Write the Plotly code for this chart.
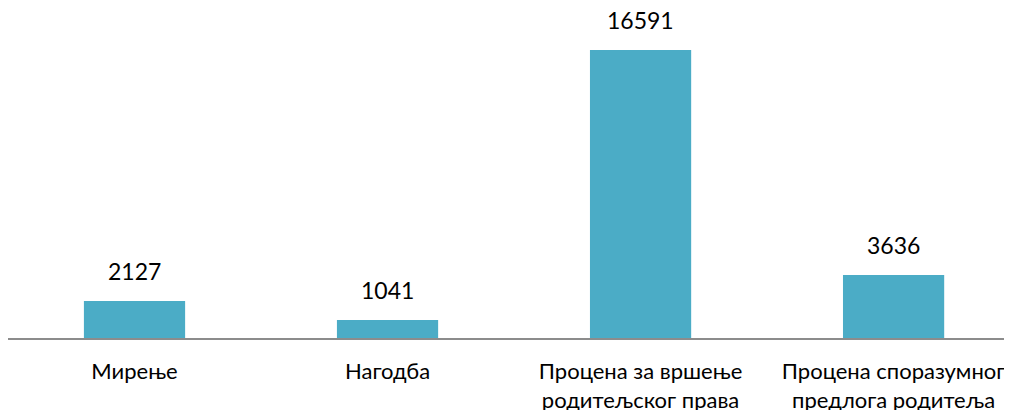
import plotly.graph_objects as go

categories = ["Мирење", "Нагодба", "Процена за вршење<br>родитељског права", "Процена споразумног<br>предлога родитеља"]
values = [2127, 1041, 16591, 3636]

fig = go.Figure(go.Bar(
    x=list(range(len(categories))),
    y=values,
    width=0.4,
    marker=dict(color="#4BACC6", line=dict(width=0)),
    hoverinfo="x+y",
))

for i, v in enumerate(values):
    fig.add_annotation(
        x=i, y=v, text=str(v), showarrow=False,
        xanchor="center", yanchor="bottom", yshift=14,
        font=dict(size=23, color="#000000"),
    )

fig.update_layout(
    width=1004, height=402,
    margin=dict(l=0, r=0, t=10, b=72, autoexpand=False),
    paper_bgcolor="white", plot_bgcolor="white",
    font=dict(family="Lato, Open Sans, sans-serif", size=22, color="#000000"),
    showlegend=False,
    xaxis=dict(
        tickmode="array", tickvals=list(range(len(categories))), ticktext=categories,
        range=[-0.5, 3.468], showgrid=False, zeroline=False,
        showline=True, linecolor="#8c8c8c", linewidth=1.5,
        ticks="", tickfont=dict(size=22, color="#000000"),
        automargin=False, ticklabelstandoff=13,
    ),
    yaxis=dict(range=[0, 18434], visible=False, showgrid=False, zeroline=False, automargin=False),
)

fig.write_html("out.html")
